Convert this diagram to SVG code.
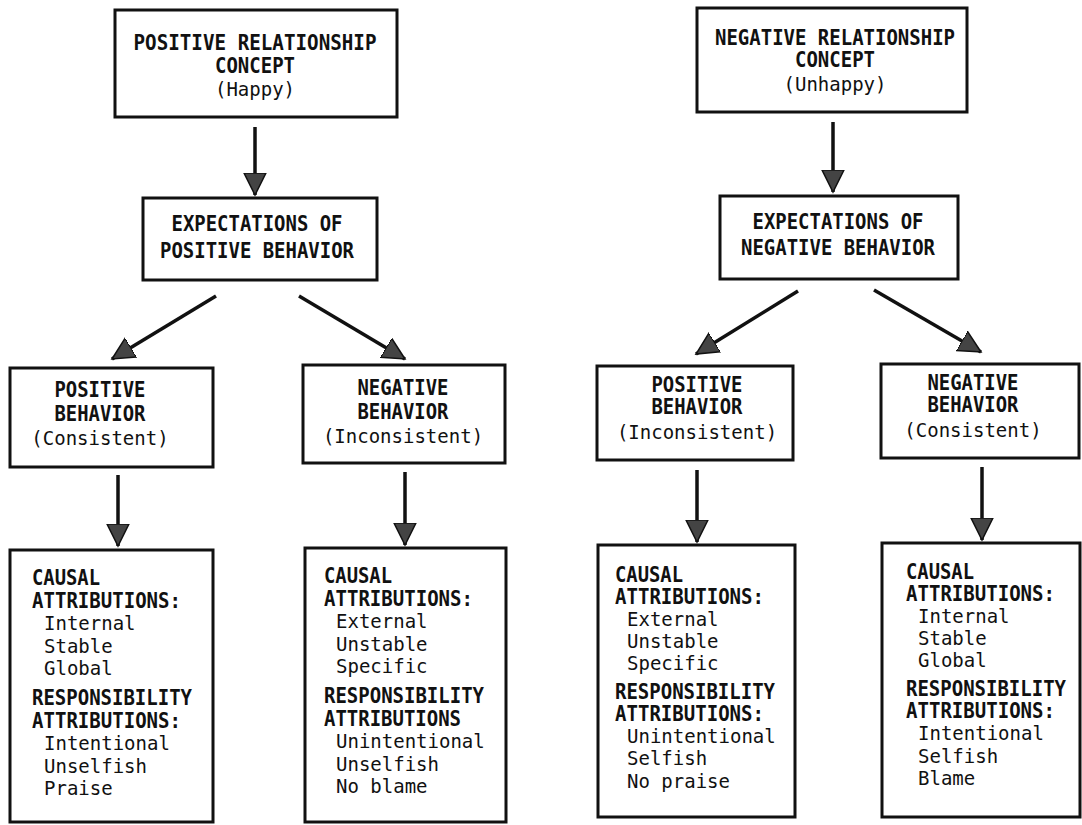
<svg xmlns="http://www.w3.org/2000/svg" width="1082" height="825" viewBox="0 0 1082 825">
<defs>
<style>
.box{fill:#fff;stroke:#111;stroke-width:3}
.b{font-family:"DejaVu Sans Mono","Liberation Mono",monospace;font-weight:bold;font-size:21px;fill:#111}
.r{font-family:"DejaVu Sans Mono","Liberation Mono",monospace;font-size:19px;fill:#111}
.c{text-anchor:middle}
.con{stroke:#111;stroke-width:3.5;fill:none;marker-end:url(#ah)}
</style>
<marker id="ah" markerUnits="userSpaceOnUse" markerWidth="24" markerHeight="24" refX="22" refY="11" orient="auto" viewBox="0 0 24 22">
<path d="M0,0 L22,11 L0,22 Z" fill="#444" stroke="#111" stroke-width="1.5"/>
</marker>
</defs>
<rect width="1082" height="825" fill="#fff"/>
<g id="connectors">
<line class="con" x1="255" y1="127" x2="255" y2="195"/>
<line class="con" x1="216" y1="296" x2="112" y2="359"/>
<line class="con" x1="299" y1="296" x2="405" y2="359"/>
<line class="con" x1="118" y1="475" x2="118" y2="546"/>
<line class="con" x1="405" y1="472" x2="405" y2="545"/>
<line class="con" x1="833" y1="122" x2="833" y2="192"/>
<line class="con" x1="798" y1="291" x2="696" y2="354"/>
<line class="con" x1="874" y1="290" x2="981" y2="352"/>
<line class="con" x1="697" y1="470" x2="697" y2="542"/>
<line class="con" x1="982" y1="467" x2="982" y2="540"/>
</g>
<g id="pos-concept">
<rect class="box" x="115" y="10" width="282" height="107"/>
<text class="b c" x="255" y="50" textLength="243" lengthAdjust="spacingAndGlyphs">POSITIVE RELATIONSHIP</text>
<text class="b c" x="255" y="73" textLength="80" lengthAdjust="spacingAndGlyphs">CONCEPT</text>
<text class="r c" x="255" y="96">(Happy)</text>
</g>
<g id="pos-expect">
<rect class="box" x="143" y="198" width="234" height="82"/>
<text class="b c" x="257" y="231" textLength="171" lengthAdjust="spacingAndGlyphs">EXPECTATIONS OF</text>
<text class="b c" x="257" y="258" textLength="194" lengthAdjust="spacingAndGlyphs">POSITIVE BEHAVIOR</text>
</g>
<g id="pp-behavior">
<rect class="box" x="10" y="368" width="203" height="99"/>
<text class="b c" x="100" y="397" textLength="91" lengthAdjust="spacingAndGlyphs">POSITIVE</text>
<text class="b c" x="100" y="421" textLength="91" lengthAdjust="spacingAndGlyphs">BEHAVIOR</text>
<text class="r c" x="100" y="445">(Consistent)</text>
</g>
<g id="pn-behavior">
<rect class="box" x="303" y="365" width="202" height="98"/>
<text class="b c" x="403" y="395" textLength="91" lengthAdjust="spacingAndGlyphs">NEGATIVE</text>
<text class="b c" x="403" y="419" textLength="91" lengthAdjust="spacingAndGlyphs">BEHAVIOR</text>
<text class="r c" x="403" y="443">(Inconsistent)</text>
</g>
<g id="pp-attrib">
<rect class="box" x="10" y="550" width="203" height="272"/>
<text class="b" x="32" y="585" textLength="68" lengthAdjust="spacingAndGlyphs">CAUSAL</text>
<text class="b" x="32" y="608" textLength="149" lengthAdjust="spacingAndGlyphs">ATTRIBUTIONS:</text>
<text class="r" x="44" y="630">Internal</text>
<text class="r" x="44" y="653">Stable</text>
<text class="r" x="44" y="675">Global</text>
<text class="b" x="32" y="705" textLength="160" lengthAdjust="spacingAndGlyphs">RESPONSIBILITY</text>
<text class="b" x="32" y="728" textLength="149" lengthAdjust="spacingAndGlyphs">ATTRIBUTIONS:</text>
<text class="r" x="44" y="750">Intentional</text>
<text class="r" x="44" y="773">Unselfish</text>
<text class="r" x="44" y="795">Praise</text>
</g>
<g id="pn-attrib">
<rect class="box" x="305" y="548" width="201" height="274"/>
<text class="b" x="324" y="583" textLength="68" lengthAdjust="spacingAndGlyphs">CAUSAL</text>
<text class="b" x="324" y="606" textLength="149" lengthAdjust="spacingAndGlyphs">ATTRIBUTIONS:</text>
<text class="r" x="336" y="628">External</text>
<text class="r" x="336" y="651">Unstable</text>
<text class="r" x="336" y="673">Specific</text>
<text class="b" x="324" y="703" textLength="160" lengthAdjust="spacingAndGlyphs">RESPONSIBILITY</text>
<text class="b" x="324" y="726" textLength="137" lengthAdjust="spacingAndGlyphs">ATTRIBUTIONS</text>
<text class="r" x="336" y="748">Unintentional</text>
<text class="r" x="336" y="771">Unselfish</text>
<text class="r" x="336" y="793">No blame</text>
</g>
<g id="neg-concept">
<rect class="box" x="697" y="8" width="270" height="104"/>
<text class="b c" x="835" y="45" textLength="240" lengthAdjust="spacingAndGlyphs">NEGATIVE RELATIONSHIP</text>
<text class="b c" x="835" y="67" textLength="80" lengthAdjust="spacingAndGlyphs">CONCEPT</text>
<text class="r c" x="835" y="91">(Unhappy)</text>
</g>
<g id="neg-expect">
<rect class="box" x="720" y="196" width="238" height="83"/>
<text class="b c" x="838" y="229" textLength="171" lengthAdjust="spacingAndGlyphs">EXPECTATIONS OF</text>
<text class="b c" x="838" y="255" textLength="194" lengthAdjust="spacingAndGlyphs">NEGATIVE BEHAVIOR</text>
</g>
<g id="np-behavior">
<rect class="box" x="597" y="366" width="196" height="94"/>
<text class="b c" x="697" y="392" textLength="91" lengthAdjust="spacingAndGlyphs">POSITIVE</text>
<text class="b c" x="697" y="414" textLength="91" lengthAdjust="spacingAndGlyphs">BEHAVIOR</text>
<text class="r c" x="697" y="439">(Inconsistent)</text>
</g>
<g id="nn-behavior">
<rect class="box" x="881" y="364" width="198" height="94"/>
<text class="b c" x="973" y="390" textLength="91" lengthAdjust="spacingAndGlyphs">NEGATIVE</text>
<text class="b c" x="973" y="412" textLength="91" lengthAdjust="spacingAndGlyphs">BEHAVIOR</text>
<text class="r c" x="973" y="437">(Consistent)</text>
</g>
<g id="np-attrib">
<rect class="box" x="598" y="545" width="197" height="272"/>
<text class="b" x="615" y="582" textLength="68" lengthAdjust="spacingAndGlyphs">CAUSAL</text>
<text class="b" x="615" y="604" textLength="149" lengthAdjust="spacingAndGlyphs">ATTRIBUTIONS:</text>
<text class="r" x="627" y="626">External</text>
<text class="r" x="627" y="648">Unstable</text>
<text class="r" x="627" y="670">Specific</text>
<text class="b" x="615" y="699" textLength="160" lengthAdjust="spacingAndGlyphs">RESPONSIBILITY</text>
<text class="b" x="615" y="721" textLength="149" lengthAdjust="spacingAndGlyphs">ATTRIBUTIONS:</text>
<text class="r" x="627" y="743">Unintentional</text>
<text class="r" x="627" y="765">Selfish</text>
<text class="r" x="627" y="788">No praise</text>
</g>
<g id="nn-attrib">
<rect class="box" x="882" y="543" width="198" height="274"/>
<text class="b" x="906" y="579" textLength="68" lengthAdjust="spacingAndGlyphs">CAUSAL</text>
<text class="b" x="906" y="601" textLength="149" lengthAdjust="spacingAndGlyphs">ATTRIBUTIONS:</text>
<text class="r" x="918" y="623">Internal</text>
<text class="r" x="918" y="645">Stable</text>
<text class="r" x="918" y="667">Global</text>
<text class="b" x="906" y="696" textLength="160" lengthAdjust="spacingAndGlyphs">RESPONSIBILITY</text>
<text class="b" x="906" y="718" textLength="149" lengthAdjust="spacingAndGlyphs">ATTRIBUTIONS:</text>
<text class="r" x="918" y="740">Intentional</text>
<text class="r" x="918" y="763">Selfish</text>
<text class="r" x="918" y="785">Blame</text>
</g>
</svg>
